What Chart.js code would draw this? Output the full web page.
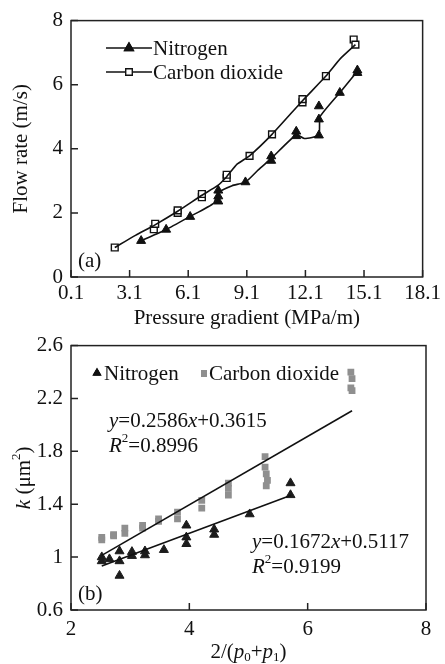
<!DOCTYPE html>
<html>
<head>
<meta charset="utf-8">
<script src="https://cdn.jsdelivr.net/npm/chart.js@4.4.0/dist/chart.umd.min.js"></script>
<style>
  html, body { margin: 0; padding: 0; background: #fff; }
  #boxA { position: absolute; left: 0; top: 0; }
  #boxB { position: absolute; left: 0; top: 325px; }
</style>
</head>
<body>
<canvas id="boxA" width="445" height="332"></canvas>
<canvas id="boxB" width="445" height="339"></canvas>
<script>
// ---- (a) flow rate vs pressure gradient ----
const n2X = [3.69, 4.97, 6.20, 7.64, 7.64, 7.64, 9.03, 10.35, 10.35, 11.63, 11.63, 12.79, 12.79, 12.79, 13.86, 14.76, 14.76];
const n2Y = [1.13, 1.48, 1.88, 2.36, 2.52, 2.70, 2.96, 3.63, 3.77, 4.40, 4.54, 4.42, 4.92, 5.33, 5.75, 6.37, 6.45];
const n2CurveX = [3.69, 4.97, 6.20, 7.40, 7.64, 8.35, 9.03, 9.70, 10.35, 11.63, 12.05, 12.79, 12.85, 13.86, 14.76];
const n2CurveY = [1.13, 1.48, 1.89, 2.30, 2.64, 2.85, 2.96, 3.35, 3.70, 4.44, 4.32, 4.42, 5.00, 5.75, 6.42];

const co2X = [2.34, 4.34, 4.41, 5.56, 5.56, 6.80, 6.80, 8.07, 8.07, 9.24, 10.39, 11.95, 11.95, 13.15, 14.57, 14.66];
const co2Y = [0.92, 1.49, 1.66, 2.00, 2.08, 2.49, 2.59, 3.09, 3.19, 3.78, 4.45, 5.45, 5.55, 6.27, 7.41, 7.25];
const co2CurveX = [2.34, 3.40, 4.38, 5.56, 6.80, 7.60, 8.07, 8.60, 9.24, 10.39, 11.95, 13.15, 13.90, 14.66];
const co2CurveY = [0.92, 1.30, 1.62, 2.05, 2.55, 2.85, 3.13, 3.52, 3.78, 4.45, 5.50, 6.27, 6.82, 7.25];

const xTicksA = [0.1, 3.1, 6.1, 9.1, 12.1, 15.1, 18.1];
const yTicksA = [0, 2, 4, 6, 8];

// ---- (b) permeability vs 2/(p0+p1) ----
const n2bX = [2.52, 2.52, 2.65, 2.82, 2.82, 2.82, 3.03, 3.03, 3.25, 3.25, 3.57, 3.95, 3.95, 3.95, 4.42, 4.42, 5.02, 5.71, 5.71];
const n2bY = [1.00, 0.97, 0.985, 1.045, 0.97, 0.86, 1.04, 1.01, 1.045, 1.015, 1.055, 1.24, 1.15, 1.10, 1.21, 1.17, 1.325, 1.56, 1.47];
const co2bX = [2.52, 2.52, 2.72, 2.72, 2.91, 2.91, 3.21, 3.21, 3.48, 3.48, 3.80, 3.80, 4.21, 4.21, 4.66, 4.66, 4.66, 5.28, 5.28, 5.30, 5.32, 5.30, 6.73, 6.75, 6.73, 6.75];
const co2bY = [1.13, 1.15, 1.16, 1.17, 1.18, 1.22, 1.22, 1.24, 1.27, 1.29, 1.29, 1.34, 1.37, 1.43, 1.47, 1.52, 1.56, 1.68, 1.76, 1.63, 1.58, 1.54, 2.40, 2.35, 2.28, 2.26];
// fitted lines, end points
const n2FitX = [2.52, 5.72];
const n2FitY = [0.933, 1.468];
const co2FitX = [2.52, 6.75];
const co2FitY = [1.013, 2.107];

const xTicksB = [2, 4, 6, 8];
const yTicksB = [0.6, 1, 1.4, 1.8, 2.2, 2.6];

const FONT = "'Liberation Serif', 'Times New Roman', serif";
const FS = 21;
const INK = '#111';
const GRAY = '#8f8f8f';

function pts(xs, ys) {
  return xs.map((x, i) => ({ x: x, y: ys[i] }));
}

// rich text: parts = [{t, i (italic), sup, sub}]
function partFont(p, size) {
  const s = (p.sup || p.sub) ? Math.round(size * 0.62) : size;
  return (p.i ? 'italic ' : '') + s + 'px ' + FONT;
}
function richWidth(ctx, parts, size) {
  let w = 0;
  parts.forEach(p => { ctx.font = partFont(p, size); w += ctx.measureText(p.t).width; });
  return w;
}
function drawRich(ctx, parts, x, y, size) {
  ctx.textBaseline = 'middle';
  ctx.textAlign = 'left';
  let cx = x;
  parts.forEach(p => {
    ctx.font = partFont(p, size);
    let dy = 0;
    if (p.sup) dy = -size * 0.33;
    if (p.sub) dy = size * 0.28;
    ctx.fillText(p.t, cx, y + dy);
    cx += ctx.measureText(p.t).width;
  });
}

function marker(ctx, style, r, x, y, fill, stroke) {
  Chart.helpers.drawPoint(ctx, {
    pointStyle: style, radius: r, rotation: 0, borderWidth: 1.3
  }, x, y);
  ctx.fillStyle = fill;
  ctx.fill();
  ctx.strokeStyle = stroke;
  ctx.lineWidth = 1.3;
  ctx.stroke();
}

// frame plus inward tick marks
const framePlugin = {
  id: 'frame',
  afterDatasetsDraw(chart) {
    const ctx = chart.ctx;
    const a = chart.chartArea;
    const xs = chart.scales.x, ys = chart.scales.y;
    ctx.save();
    ctx.strokeStyle = '#222';
    ctx.lineWidth = 1.5;
    ctx.strokeRect(a.left, a.top, a.right - a.left, a.bottom - a.top);
    ctx.beginPath();
    xs.ticks.forEach(t => {
      const px = xs.getPixelForValue(t.value);
      ctx.moveTo(px, a.bottom);
      ctx.lineTo(px, a.bottom - 7);
    });
    ys.ticks.forEach(t => {
      const py = ys.getPixelForValue(t.value);
      ctx.moveTo(a.left, py);
      ctx.lineTo(a.left + 7, py);
    });
    ctx.stroke();
    ctx.restore();
  }
};

function scaleOpts(ticks, width, height, fmt, pad) {
  return {
    type: 'linear',
    min: ticks[0],
    max: ticks[ticks.length - 1],
    afterBuildTicks: s => { s.ticks = ticks.map(v => ({ value: v })); },
    afterFit: s => {
      if (width) s.width = width;
      if (height) s.height = height;
    },
    grid: { display: false, drawTicks: false },
    border: { display: false },
    ticks: {
      color: INK,
      padding: pad,
      font: { family: FONT, size: FS },
      callback: fmt
    }
  };
}

// ---------- chart (a) ----------
const legendA = {
  id: 'legendA',
  afterDraw(chart) {
    const ctx = chart.ctx;
    ctx.save();
    [[48, 'triangle', 5, INK, 'Nitrogen'], [72, 'rect', 4.6, '#fff', 'Carbon dioxide']].forEach(r => {
      ctx.beginPath();
      ctx.moveTo(106, r[0]);
      ctx.lineTo(152, r[0]);
      ctx.strokeStyle = INK;
      ctx.lineWidth = 1.5;
      ctx.stroke();
      marker(ctx, r[1], r[2], 129, r[0], r[3], INK);
      ctx.fillStyle = INK;
      ctx.font = FS + 'px ' + FONT;
      ctx.textBaseline = 'middle';
      ctx.textAlign = 'left';
      ctx.fillText(r[4], 153, r[0] + 1);
    });
    ctx.font = FS + 'px ' + FONT;
    ctx.fillText('(a)', 78, 261);
    ctx.restore();
  }
};

const xA = scaleOpts(xTicksA, 0, 55, v => v.toFixed(1), 4);
xA.title = { display: true, text: 'Pressure gradient (MPa/m)', color: INK,
  font: { family: FONT, size: FS }, padding: { top: 0, bottom: 1 } };
const yA = scaleOpts(yTicksA, 71, 0, v => String(v), 8);
yA.title = { display: true, text: 'Flow rate (m/s)', color: INK,
  font: { family: FONT, size: FS }, padding: { top: 9, bottom: 0 } };

new Chart(document.getElementById('boxA'), {
  type: 'scatter',
  data: {
    datasets: [
      { data: pts(co2CurveX, co2CurveY), showLine: true, tension: 0.15, borderColor: INK,
        borderWidth: 1.6, pointRadius: 0 },
      { data: pts(n2CurveX, n2CurveY), showLine: true, tension: 0.15, borderColor: INK,
        borderWidth: 1.6, pointRadius: 0 },
      { label: 'Carbon dioxide', data: pts(co2X, co2Y), pointStyle: 'rect', pointRadius: 4.8,
        backgroundColor: '#fff', borderColor: INK, borderWidth: 1.4 },
      { label: 'Nitrogen', data: pts(n2X, n2Y), pointStyle: 'triangle', pointRadius: 5.2,
        backgroundColor: INK, borderColor: INK, borderWidth: 1 }
    ]
  },
  options: {
    responsive: false,
    animation: false,
    devicePixelRatio: 1,
    layout: { padding: { top: 19, right: 19, left: 0, bottom: 0 } },
    plugins: { legend: { display: false }, tooltip: { enabled: false } },
    scales: { x: xA, y: yA }
  },
  plugins: [framePlugin, legendA]
});

// ---------- chart (b) ----------
const textB = {
  id: 'textB',
  afterDraw(chart) {
    const ctx = chart.ctx;
    ctx.save();
    // legend
    marker(ctx, 'triangle', 4.2, 97, 48, INK, INK);
    ctx.font = FS + 'px ' + FONT;
    ctx.textBaseline = 'middle';
    ctx.textAlign = 'left';
    ctx.fillStyle = INK;
    ctx.fillText('Nitrogen', 104, 49);
    ctx.fillStyle = GRAY;
    ctx.fillRect(201, 45, 6, 7);
    ctx.fillStyle = INK;
    ctx.fillText('Carbon dioxide', 209, 49);
    // equations
    drawRich(ctx, [{ t: 'y', i: true }, { t: '=0.2586' }, { t: 'x', i: true }, { t: '+0.3615' }], 109, 96, FS);
    drawRich(ctx, [{ t: 'R', i: true }, { t: '2', sup: true }, { t: '=0.8996' }], 109, 121, FS);
    drawRich(ctx, [{ t: 'y', i: true }, { t: '=0.1672' }, { t: 'x', i: true }, { t: '+0.5117' }], 252, 217, FS);
    drawRich(ctx, [{ t: 'R', i: true }, { t: '2', sup: true }, { t: '=0.9199' }], 252, 242, FS);
    ctx.font = FS + 'px ' + FONT;
    ctx.fillText('(b)', 78, 269);
    // axis titles
    const xt = [{ t: '2/(' }, { t: 'p', i: true }, { t: '0', sub: true }, { t: '+' }, { t: 'p', i: true }, { t: '1', sub: true }, { t: ')' }];
    const wx = richWidth(ctx, xt, FS);
    const a = chart.chartArea;
    drawRich(ctx, xt, (a.left + a.right) / 2 - wx / 2, 327, FS);
    const yt = [{ t: 'k', i: true }, { t: ' (μm' }, { t: '2', sup: true }, { t: ')' }];
    const wy = richWidth(ctx, yt, FS);
    ctx.translate(24, (a.top + a.bottom) / 2);
    ctx.rotate(-Math.PI / 2);
    drawRich(ctx, yt, -wy / 2, 0, FS);
    ctx.restore();
  }
};

new Chart(document.getElementById('boxB'), {
  type: 'scatter',
  data: {
    datasets: [
      { data: pts(co2FitX, co2FitY), showLine: true, borderColor: INK, borderWidth: 1.6, pointRadius: 0 },
      { data: pts(n2FitX, n2FitY), showLine: true, borderColor: INK, borderWidth: 1.6, pointRadius: 0 },
      { label: 'Carbon dioxide', data: pts(co2bX, co2bY), pointStyle: 'rect', pointRadius: 4.8,
        backgroundColor: GRAY, borderColor: GRAY, borderWidth: 0 },
      { label: 'Nitrogen', data: pts(n2bX, n2bY), pointStyle: 'triangle', pointRadius: 5.2,
        backgroundColor: '#1c1c1c', borderColor: '#1c1c1c', borderWidth: 1 }
    ]
  },
  options: {
    responsive: false,
    animation: false,
    devicePixelRatio: 1,
    layout: { padding: { top: 17, right: 19, left: 0, bottom: 0 } },
    plugins: { legend: { display: false }, tooltip: { enabled: false } },
    scales: {
      x: scaleOpts(xTicksB, 0, 54, v => String(v), 7),
      y: scaleOpts(yTicksB, 71, 0, v => String(v), 8)
    }
  },
  plugins: [framePlugin, textB]
});
</script>
</body>
</html>
